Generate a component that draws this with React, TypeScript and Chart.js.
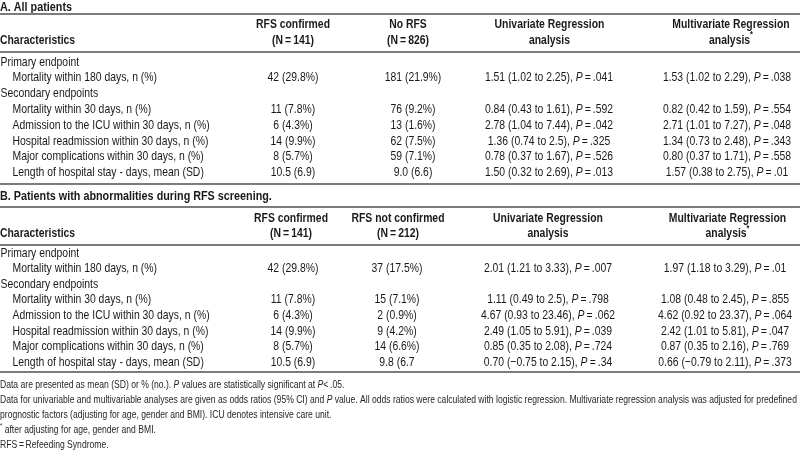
import React, { useEffect, useRef } from "react";
import { Chart, registerables } from "chart.js";
Chart.register(...registerables);

// ---------- DATA ----------
const primaryGroup = "Primary endpoint";
const secondaryGroup = "Secondary endpoints";
const characteristics = [
  "Mortality within 180 days, n (%)",
  "Mortality within 30 days, n (%)",
  "Admission to the ICU within 30 days, n (%)",
  "Hospital readmission within 30 days, n (%)",
  "Major complications within 30 days, n (%)",
  "Length of hospital stay - days, mean (SD)",
];

const titleA = "A. All patients";
const headerTopA = ["RFS confirmed", "No RFS", "Univariate Regression", "Multivariate Regression"];
const headerBottomA = ["(N=141)", "(N=826)", "analysis", "analysis"];
const rfsConfirmedA = ["42 (29.8%)", "11 (7.8%)", "6 (4.3%)", "14 (9.9%)", "8 (5.7%)", "10.5 (6.9)"];
const noRfsA = ["181 (21.9%)", "76 (9.2%)", "13 (1.6%)", "62 (7.5%)", "59 (7.1%)", "9.0 (6.6)"];
const univariateA = ["1.51 (1.02 to 2.25)", "0.84 (0.43 to 1.61)", "2.78 (1.04 to 7.44)", "1.36 (0.74 to 2.5)", "0.78 (0.37 to 1.67)", "1.50 (0.32 to 2.69)"];
const univariatePA = [".041", ".592", ".042", ".325", ".526", ".013"];
const multivariateA = ["1.53 (1.02 to 2.29)", "0.82 (0.42 to 1.59)", "2.71 (1.01 to 7.27)", "1.34 (0.73 to 2.48)", "0.80 (0.37 to 1.71)", "1.57 (0.38 to 2.75)"];
const multivariatePA = [".038", ".554", ".048", ".343", ".558", ".01"];

const titleB = "B. Patients with abnormalities during RFS screening.";
const headerTopB = ["RFS confirmed", "RFS not confirmed", "Univariate Regression", "Multivariate Regression"];
const headerBottomB = ["(N=141)", "(N=212)", "analysis", "analysis"];
const rfsConfirmedB = ["42 (29.8%)", "11 (7.8%)", "6 (4.3%)", "14 (9.9%)", "8 (5.7%)", "10.5 (6.9)"];
const rfsNotConfirmedB = ["37 (17.5%)", "15 (7.1%)", "2 (0.9%)", "9 (4.2%)", "14 (6.6%)", "9.8 (6.7"];
const univariateB = ["2.01 (1.21 to 3.33)", "1.11 (0.49 to 2.5)", "4.67 (0.93 to 23.46)", "2.49 (1.05 to 5.91)", "0.85 (0.35 to 2.08)", "0.70 (\u22120.75 to 2.15)"];
const univariatePB = [".007", ".798", ".062", ".039", ".724", ".34"];
const multivariateB = ["1.97 (1.18 to 3.29)", "1.08 (0.48 to 2.45)", "4.62 (0.92 to 23.37)", "2.42 (1.01 to 5.81)", "0.87 (0.35 to 2.16)", "0.66 (\u22120.79 to 2.11)"];
const multivariatePB = [".01", ".855", ".064", ".047", ".769", ".373"];

const charHeader = "Characteristics";

type Seg = { t: string; i?: boolean; b?: boolean; sup?: boolean };
const footnotes: Seg[][] = [
  [{ t: "Data are presented as mean (SD) or % (no.). " }, { t: "P", i: true }, { t: " values are statistically significant at " }, { t: "P", i: true }, { t: "<\u2009.05." }],
  [{ t: "Data for univariable and multivariable analyses are given as odds ratios (95% CI) and " }, { t: "P", i: true }, { t: " value. All odds ratios were calculated with logistic regression. Multivariate regression analysis was adjusted for predefined" }],
  [{ t: "prognostic factors (adjusting for age, gender and BMI). ICU denotes intensive care unit." }],
  [{ t: "*", sup: true }, { t: " after adjusting for age, gender and BMI." }],
  [{ t: "RFS\u2009=\u2009Refeeding Syndrome." }],
];

// ---------- LAYOUT / STYLE ----------
const W = 800;
const H = 451;
const FONT = '"Liberation Sans", Arial, sans-serif';
const TEXT = "#1a1a1a";
const RULE = "#7c7c7c";
const SX = 0.8;
const BODY = 13;

const sections = [
  {
    title: titleA, top: headerTopA, bottom: headerBottomA,
    cols: [rfsConfirmedA, noRfsA], uni: univariateA, uniP: univariatePA, multi: multivariateA, multiP: multivariatePA,
    L: { titleY: 7, titleRule: 14, h1: 24, h2: 40, headRule: 52, row0: 62, step: 15.8, endRule: 184, colX: [293, 413, 549, 727], headX: [293, 408, 549.5, 731] },
  },
  {
    title: titleB, top: headerTopB, bottom: headerBottomB,
    cols: [rfsConfirmedB, rfsNotConfirmedB], uni: univariateB, uniP: univariatePB, multi: multivariateB, multiP: multivariatePB,
    L: { titleY: 196.5, titleRule: 207, h1: 218, h2: 233.5, headRule: 245, row0: 253, step: 15.6, endRule: 372, colX: [293, 397, 548, 725], headX: [291, 398, 548, 727.5] },
  },
];
const foot = { y0: 385, step: 15, size: 11, sx: 0.78 };

function drawRich(ctx: CanvasRenderingContext2D, segs: Seg[], x: number, y: number, align: string, size: number, bold: boolean, sx: number, color: string) {
  const fonts = segs.map((s) => `${s.i ? "italic " : ""}${s.b || bold ? "bold " : ""}${s.sup ? size * 0.7 : size}px ${FONT}`);
  const widths = segs.map((s, k) => { ctx.font = fonts[k]; return ctx.measureText(s.t).width * sx; });
  const total = widths.reduce((a, b) => a + b, 0);
  let cx = align === "center" ? x - total / 2 : align === "right" ? x - total : x;
  ctx.fillStyle = color;
  ctx.textBaseline = "middle";
  ctx.textAlign = "left";
  segs.forEach((s, k) => {
    ctx.save();
    ctx.font = fonts[k];
    ctx.translate(cx, s.sup ? y - size * 0.4 : y);
    ctx.scale(sx, 1);
    ctx.fillText(s.t, 0, 0);
    ctx.restore();
    cx += widths[k];
  });
}

const tablePlugin = {
  id: "tableText",
  afterDraw(chart: any) {
    const ctx: CanvasRenderingContext2D = chart.ctx;
    const xs = chart.scales.x;
    const ys = chart.scales.y;
    const X = (v: number) => xs.getPixelForValue(v);
    const Y = (v: number) => ys.getPixelForValue(v);
    const rule = (v: number) => {
      ctx.save();
      ctx.strokeStyle = RULE;
      ctx.lineWidth = 2;
      ctx.beginPath();
      ctx.moveTo(X(0), Y(v));
      ctx.lineTo(X(W), Y(v));
      ctx.stroke();
      ctx.restore();
    };
    ctx.save();
    ctx.fillStyle = "#ffffff";
    ctx.fillRect(0, 0, chart.width, chart.height);
    ctx.restore();

    sections.forEach((sec) => {
      const L = sec.L;
      drawRich(ctx, [{ t: sec.title }], X(0), Y(L.titleY), "left", 13.5, true, SX, TEXT);
      rule(L.titleRule);
      sec.top.forEach((t, c) => drawRich(ctx, [{ t }], X(L.headX[c]), Y(L.h1), "center", BODY, true, SX, TEXT));
      drawRich(ctx, [{ t: charHeader }], X(0), Y(L.h2), "left", BODY, true, SX, TEXT);
      sec.bottom.forEach((t, c) => {
        const segs: Seg[] = [{ t: t.replace("=", "\u2009=\u2009") }];
        if (c === 3) segs.push({ t: "*", sup: true, b: false });
        drawRich(ctx, segs, X(L.headX[c]), Y(L.h2), "center", BODY, true, SX, TEXT);
      });
      rule(L.headRule);

      const rows: { label: string; idx: number }[] = [];
      rows.push({ label: primaryGroup, idx: -1 });
      rows.push({ label: characteristics[0], idx: 0 });
      rows.push({ label: secondaryGroup, idx: -1 });
      characteristics.slice(1).forEach((c, k) => rows.push({ label: c, idx: k + 1 }));

      rows.forEach((r, k) => {
        const y = Y(L.row0 + k * L.step);
        drawRich(ctx, [{ t: r.label }], X(r.idx < 0 ? 0.5 : 12.5), y, "left", BODY, false, SX, TEXT);
        if (r.idx < 0) return;
        sec.cols.forEach((col, c) => drawRich(ctx, [{ t: col[r.idx] }], X(L.colX[c]), y, "center", BODY, false, SX, TEXT));
        drawRich(ctx, [{ t: sec.uni[r.idx] + ", " }, { t: "P", i: true }, { t: "\u2009=\u2009" + sec.uniP[r.idx] }], X(L.colX[2]), y, "center", BODY, false, SX, TEXT);
        drawRich(ctx, [{ t: sec.multi[r.idx] + ", " }, { t: "P", i: true }, { t: "\u2009=\u2009" + sec.multiP[r.idx] }], X(L.colX[3]), y, "center", BODY, false, SX, TEXT);
      });
      rule(L.endRule);
    });

    footnotes.forEach((segs, k) => drawRich(ctx, segs, X(0), Y(foot.y0 + k * foot.step), "left", foot.size, false, foot.sx, "#262626"));
  },
};

export default function App() {
  const ref = useRef<HTMLCanvasElement | null>(null);
  useEffect(() => {
    document.body.style.margin = "0";
    const canvas = ref.current;
    if (!canvas) return;
    const chart = new Chart(canvas, {
      type: "scatter",
      data: { datasets: [{ data: [], pointRadius: 0 }] },
      options: {
        animation: false,
        responsive: false,
        devicePixelRatio: 1,
        layout: { padding: 0 },
        plugins: { legend: { display: false }, tooltip: { enabled: false } },
        scales: {
          x: { type: "linear", min: 0, max: W, display: false },
          y: { type: "linear", min: 0, max: H, reverse: true, display: false },
        },
      },
      plugins: [tablePlugin],
    });
    return () => chart.destroy();
  }, []);
  return (
    <div style={{ width: W, height: H, background: "#fff" }}>
      <canvas ref={ref} width={W} height={H} style={{ display: "block" }} />
    </div>
  );
}
